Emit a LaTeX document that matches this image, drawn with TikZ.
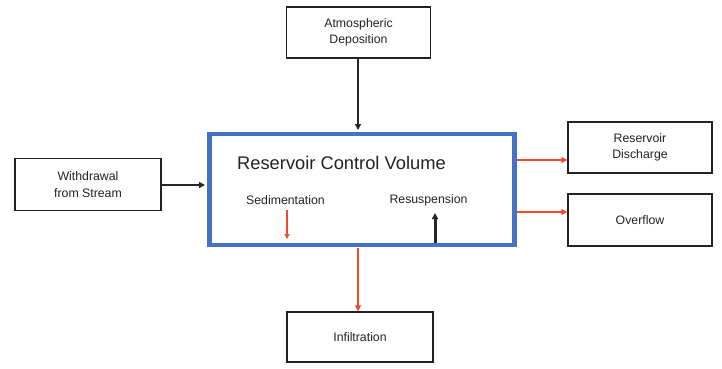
\documentclass[tikz,border=0pt]{standalone}
\usepackage{fontspec}
\setmainfont{Liberation Sans}
\usetikzlibrary{arrows.meta}
\definecolor{mainblue}{HTML}{4472C4}
\definecolor{flowred}{HTML}{EE4B2B}
\definecolor{boxgray}{HTML}{222222}
\begin{document}
\begin{tikzpicture}[x=1pt,y=-1pt,
  flowbox/.style={draw=boxgray,line width=1.4pt,minimum width=144pt,minimum height=51pt,inner sep=0pt,align=center,font=\fontsize{12.3}{16.5}\selectfont,text=boxgray},
  mainbox/.style={draw=mainblue,line width=4.5pt,minimum width=305pt,minimum height=111pt,inner sep=0pt},
  blackflow/.style={draw=black!85,line width=2pt,-{Triangle[length=6pt,width=6pt]}},
  redflow/.style={draw=flowred,line width=1.8pt,-{Triangle[length=6pt,width=6pt]}},
  lbl/.style={font=\fontsize{12.3}{14}\selectfont,text=boxgray,inner sep=0pt}]
\useasboundingbox (0,0) rectangle (722,368);
\node[flowbox] (atm) at (358.5,32.5) {Atmospheric\\Deposition};
\node[mainbox] (main) at (362,189.5) {};
\node[flowbox,minimum width=146pt,minimum height=52pt] (wd) at (88,184.5) {Withdrawal\\from Stream};
\node[flowbox] (dis) at (640,147.5) {Reservoir\\Discharge};
\node[flowbox,minimum height=52pt] (ovf) at (640,220) {Overflow};
\node[flowbox,minimum width=146pt,minimum height=50pt] (inf) at (360,337) {Infiltration};
\node[font=\fontsize{18.3}{22}\selectfont,text=boxgray,anchor=west,inner sep=0pt] (title) at (237,163) {Reservoir Control Volume};
\node[lbl] (sed) at (285.5,200) {Sedimentation};
\node[lbl] (res) at (428.5,200) {Resuspension};
\coordinate (sedtop) at (287,210);
\coordinate (sedbot) at (287,239);
\coordinate (resbot) at (435,243);
\coordinate (restop) at (435,213);
\draw[blackflow] (atm.south -| 358,0) -- (358,130);
\draw[blackflow] (wd.east |- 0,185) -- (205,185);
\draw[redflow] (517,160) -- (dis.west |- 0,160);
\draw[redflow] (517,212) -- (ovf.west |- 0,212);
\draw[redflow] (358,248) -- (inf.north -| 358,0);
\draw[redflow,line width=1.4pt,-{Triangle[length=5pt,width=5pt]}] (sedtop) -- (sedbot);
\draw[blackflow,line width=3pt,-{Triangle[length=6pt,width=6pt]}] (resbot) -- (restop);
\end{tikzpicture}
\end{document}
